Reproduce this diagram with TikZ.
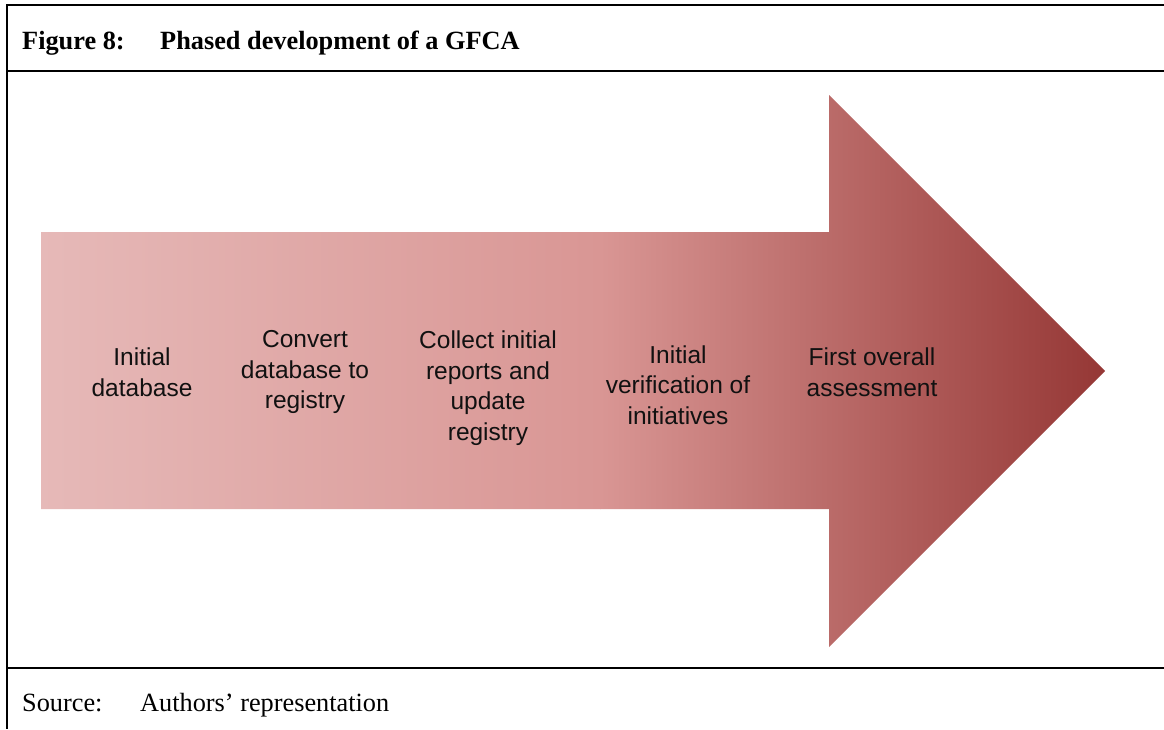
\documentclass[tikz,border=0pt]{standalone}
\usepackage{fontspec}
\setmainfont{Liberation Serif}
\newfontfamily\arialfont{Liberation Sans}
\definecolor{gA}{HTML}{E6B9B8}
\definecolor{gB}{HTML}{D99694}
\definecolor{gC}{HTML}{953735}
\definecolor{txt}{HTML}{111111}
\tikzset{
  frameline/.style={line width=2pt, black},
  caption/.style={inner sep=0pt, anchor=base west, font=\fontsize{26.3}{30}\selectfont},
  steplabel/.style={inner sep=0pt, align=center, text=txt, font=\arialfont\fontsize{24.5}{30.5}\selectfont}
}
\begin{document}
\begin{tikzpicture}[x=1pt,y=-1pt]
\useasboundingbox (0,0) rectangle (1164,729);
% frame
\draw[frameline] (7,5) -- (1164,5);
\draw[frameline] (7,71) -- (1164,71);
\draw[frameline] (7,668) -- (1164,668);
\draw[frameline] (7,4) -- (7,729);
% title and source
\node[caption, font=\fontsize{26.3}{30}\selectfont\bfseries] (fig) at (22,49) {Figure 8:};
\node[caption, font=\fontsize{26.3}{30}\selectfont\bfseries] (title) at (160,49) {Phased development of a GFCA};
\node[caption] (src) at (22,711) {Source:};
\node[caption] (srctext) at (140,711) {Authors’ representation};
% arrow
\begin{scope}
  \clip (41,232) -- (829,232) -- (829,95) -- (1105,371) -- (829,647) -- (829,509) -- (41,509) -- cycle;
  \shade[left color=gA, right color=gB] (40,90) rectangle (600.5,650);
  \shade[left color=gB, right color=gC] (600,90) rectangle (1106,650);
\end{scope}
% labels
\node[steplabel] (s1) at (142,372) {Initial\\database};
\node[steplabel] (s2) at (305,372) {Convert\\database to\\registry};
\node[steplabel] (s3) at (488,388) {Collect initial\\reports and\\update\\registry};
\node[steplabel] (s4) at (678,385) {Initial\\verification of\\initiatives};
\node[steplabel] (s5) at (872,372) {First overall\\assessment};
\end{tikzpicture}
\end{document}
